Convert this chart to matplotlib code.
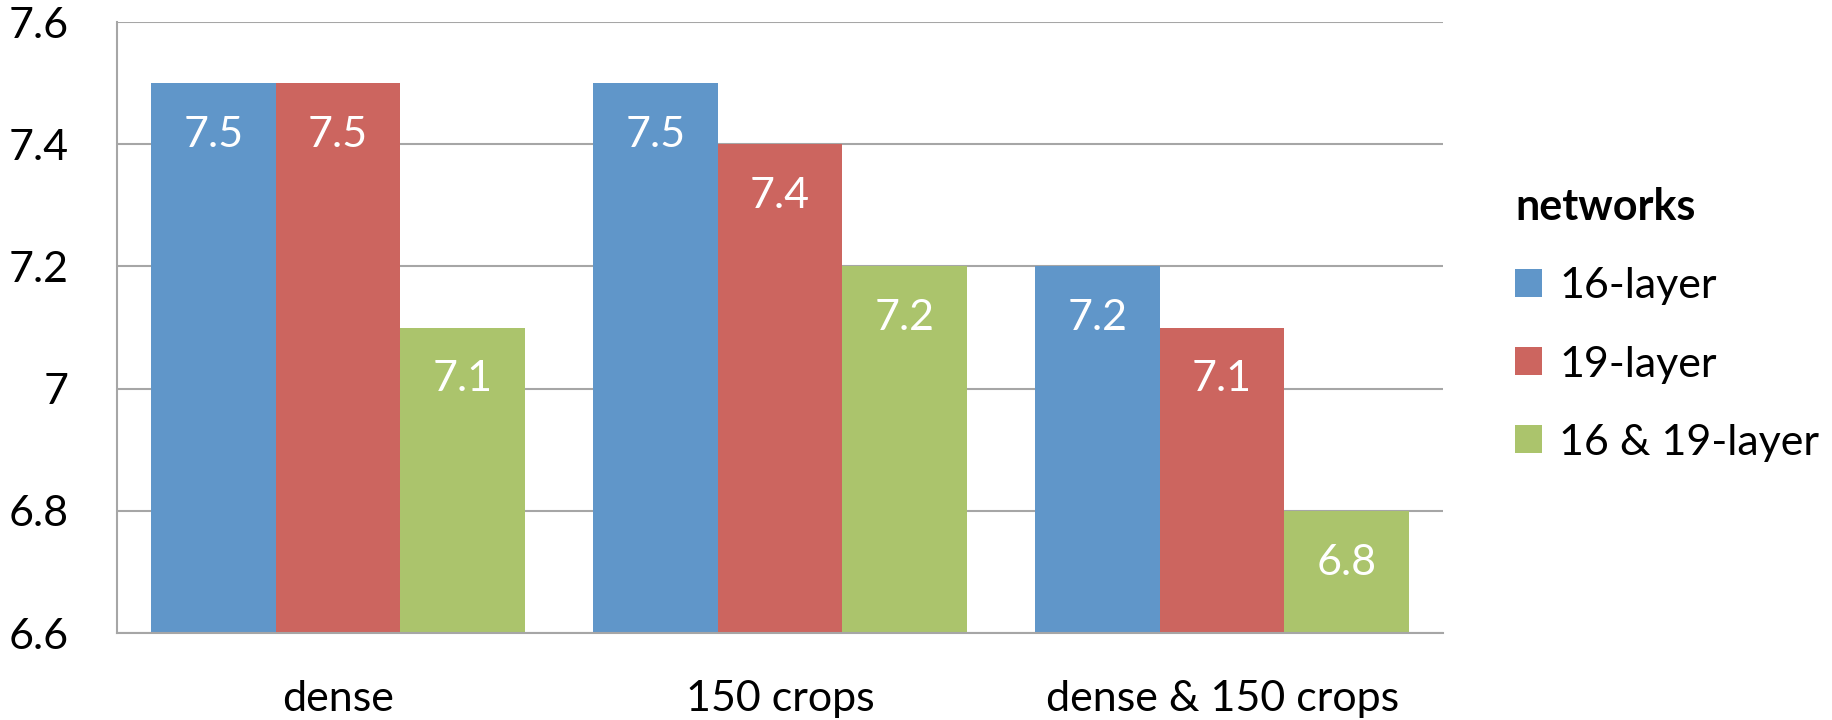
import numpy as np
import matplotlib.pyplot as plt
from matplotlib.patches import Patch

plt.rcParams['font.family'] = ['Lato', 'DejaVu Sans']

# data
categories = ['dense', '150 crops', 'dense & 150 crops']
series_names = ['16-layer', '19-layer', '16 & 19-layer']
vals_16 = [7.5, 7.5, 7.2]
vals_19 = [7.5, 7.4, 7.1]
vals_both = [7.1, 7.2, 6.8]
colors = ['#6096c9', '#cc655f', '#abc46c']

fig = plt.figure(figsize=(18.32, 7.2), dpi=100)
ax = fig.add_axes([0.0639, 0.1208, 0.7238, 0.8486])

x = np.arange(len(categories))
w = 0.2817
base = 6.6
for i, (vals, c) in enumerate(zip([vals_16, vals_19, vals_both], colors)):
    xs = x + (i - 1) * w
    heights = [v - base for v in vals]
    ax.bar(xs, heights, width=w, bottom=base, color=c, zorder=2)
    for xi, v in zip(xs, vals):
        ax.text(xi, v - 0.085, f'{v:g}', ha='center', va='center',
                color='white', fontsize=31, zorder=3)

ax.set_xlim(-0.5, 2.5)
ax.set_ylim(6.6, 7.6)
ax.set_yticks([6.6, 6.8, 7.0, 7.2, 7.4, 7.6])
ax.set_yticklabels(['6.6', '6.8', '7', '7.2', '7.4', '7.6'])
ax.set_xticks(x)
ax.set_xticklabels(categories)
ax.tick_params(axis='both', length=0, labelsize=31)
ax.tick_params(axis='y', pad=35)
ax.tick_params(axis='x', pad=34)
ax.grid(axis='y', color='#a6a6a6', linewidth=1.5, zorder=1)
for s in ['top', 'right']:
    ax.spines[s].set_visible(False)
for s in ['left', 'bottom']:
    ax.spines[s].set_color('#a6a6a6')
    ax.spines[s].set_linewidth(1.5)

handles = [Patch(facecolor=c, edgecolor='none') for c in colors]
leg = fig.legend(handles, series_names, loc='upper left',
                 bbox_to_anchor=(0.827, 0.74), frameon=False,
                 fontsize=31, title='networks', alignment='left',
                 handlelength=0.62, handleheight=0.62, handletextpad=0.4,
                 labelspacing=0.93, borderaxespad=0, borderpad=0)
leg.get_title().set_fontsize(31)
leg.get_title().set_fontweight('bold')
leg._legend_box.sep = 29

fig.savefig('out.png', dpi=100)
